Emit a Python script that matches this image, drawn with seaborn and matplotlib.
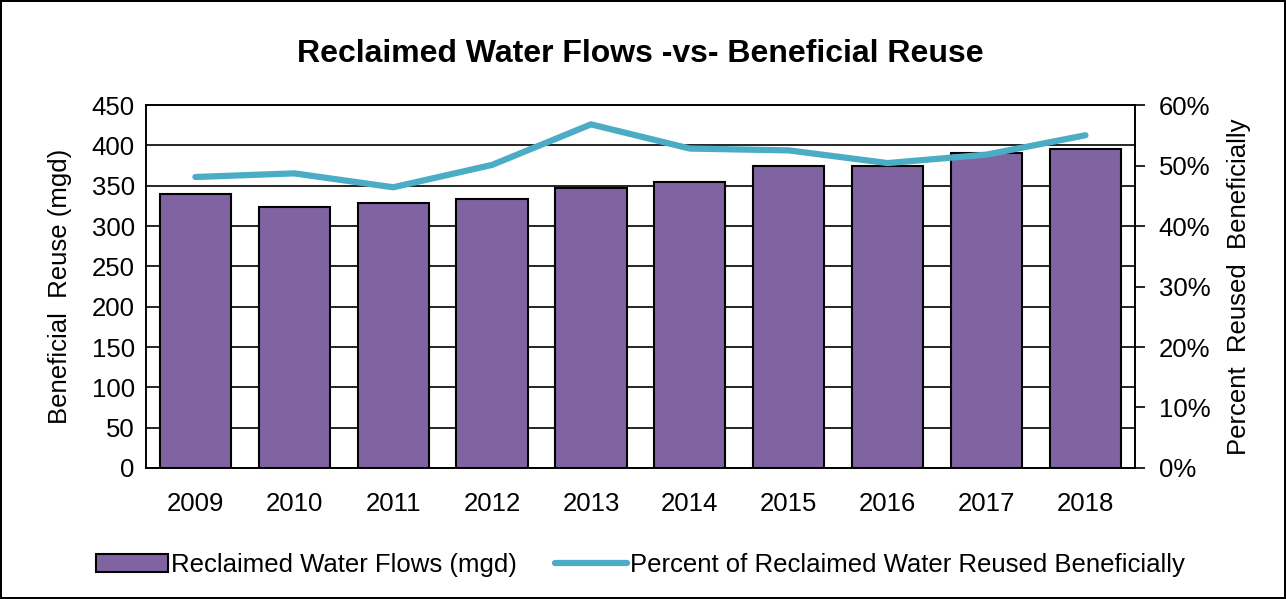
import numpy as np
import pandas as pd
import matplotlib.pyplot as plt
import seaborn as sns
from matplotlib.ticker import PercentFormatter, MultipleLocator

# Data
years = ['2009', '2010', '2011', '2012', '2013', '2014', '2015', '2016', '2017', '2018']
flows = [340, 324, 329, 334, 347, 354, 375, 375, 391, 396]
pct_reused = [48.1, 48.7, 46.4, 50.1, 56.8, 52.8, 52.5, 50.4, 51.8, 55.0]

sns.set_theme(style="white")
plt.rcParams['font.family'] = ['Liberation Sans', 'DejaVu Sans']
plt.rcParams['text.color'] = 'black'
plt.rcParams['axes.labelcolor'] = 'black'
plt.rcParams['xtick.color'] = 'black'
plt.rcParams['ytick.color'] = 'black'

bar_color = '#8064A2'
line_color = '#4BACC6'
fs = 18.5

fig = plt.figure(figsize=(12.86, 5.99), dpi=100)
fig.patch.set_edgecolor('black')
fig.patch.set_linewidth(1.5)
ax = fig.add_axes([0.1135, 0.2187, 0.769, 0.606])

df = pd.DataFrame({'year': years, 'flow': flows, 'pct': pct_reused})

ax.set_axisbelow(True)
ax.yaxis.grid(True, color='black', linewidth=1.2)
sns.barplot(data=df, x='year', y='flow', color=bar_color, saturation=1,
            edgecolor='black', linewidth=1.5, width=0.72, ax=ax,
            label='Reclaimed Water Flows (mgd)')
ax.set_ylim(0, 450)
ax.yaxis.set_major_locator(MultipleLocator(50))
ax.set_xlim(-0.5, len(years) - 0.5)
ax.set_xlabel('')
ax.set_ylabel('Beneficial  Reuse (mgd)', fontsize=fs, labelpad=14)
ax.tick_params(axis='y', labelsize=fs, length=0, pad=8)
ax.tick_params(axis='x', labelsize=fs, length=0, pad=17)

ax2 = ax.twinx()
sns.lineplot(x=np.arange(len(years)), y=df['pct'], color=line_color, linewidth=4.5,
             ax=ax2, label='Percent of Reclaimed Water Reused Beneficially',
             legend=False, solid_capstyle='round')
ax2.set_ylim(0, 60)
ax2.yaxis.set_major_locator(MultipleLocator(10))
ax2.yaxis.set_major_formatter(PercentFormatter(xmax=100, decimals=0))
ax2.set_ylabel('Percent  Reused  Beneficially', fontsize=fs, labelpad=12)
ax2.tick_params(axis='y', labelsize=fs, length=7, width=1.2, color='black',
                direction='out', right=True, pad=10)

for a in (ax, ax2):
    for s in a.spines.values():
        s.set_color('black')
        s.set_linewidth(1.2)

ax.set_title('Reclaimed Water Flows -vs- Beneficial Reuse', fontsize=23,
             fontweight='bold', pad=31)

h1, l1 = ax.get_legend_handles_labels()
h2, l2 = ax2.get_legend_handles_labels()
leg = ax.legend(h1 + h2, l1 + l2, loc='upper center', bbox_to_anchor=(0.5, -0.17),
                ncol=2, frameon=False, fontsize=fs, handlelength=2.8,
                handletextpad=0.1, columnspacing=1.5)
if ax2.get_legend():
    ax2.get_legend().remove()

fig.savefig('out.png', dpi=100)
